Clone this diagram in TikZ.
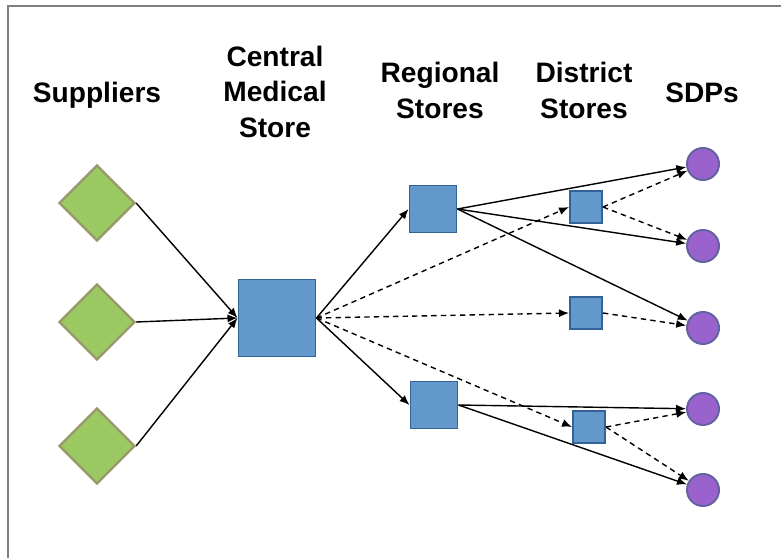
\documentclass[tikz,border=0pt]{standalone}
\usepackage{fontspec}
\setmainfont{Liberation Sans}
\usetikzlibrary{arrows.meta,shapes.geometric}
\definecolor{suppfill}{RGB}{155,202,98}
\definecolor{suppline}{RGB}{152,152,108}
\definecolor{storefill}{RGB}{98,152,202}
\definecolor{storeline}{RGB}{52,98,152}
\definecolor{sdpfill}{RGB}{153,98,204}
\definecolor{sdpline}{RGB}{98,98,160}
\tikzset{
  supplier/.style={diamond, draw=suppline, fill=suppfill, line width=1.6pt, inner sep=0pt, minimum width=1.9cm, minimum height=1.9cm},
  store/.style={rectangle, draw=storeline, fill=storefill, line width=1.4pt, inner sep=0pt},
  sdp/.style={circle, draw=sdpline, fill=sdpfill, line width=1.4pt, inner sep=0pt, minimum size=0.8cm},
  heading/.style={font=\fontsize{20}{25}\selectfont\bfseries, align=center, anchor=base},
  flow/.style={-{Latex[length=0.25cm,width=0.2cm]}, line width=1pt},
  flowdash/.style={flow, dash pattern=on 3.8pt off 3pt}
}
\begin{document}
\begin{tikzpicture}[x=0.025cm,y=-0.025cm]
\useasboundingbox (0,0) rectangle (781,558);
\draw[gray, line width=1.8pt] (8,558) -- (8,6) -- (781,6);
% headings (base = last line)
\node[heading] (hsup) at (97,102) {Suppliers};
\node[heading] (hcms) at (275,137) {Central\\Medical\\Store};
\node[heading] (hreg) at (440,118) {Regional\\Stores};
\node[heading] (hdis) at (584,118) {District\\Stores};
\node[heading] (hsdp) at (702,102) {SDPs};
% suppliers
\node[supplier] (sup1) at (97,203) {};
\node[supplier] (sup2) at (97,322) {};
\node[supplier] (sup3) at (97,446) {};
% stores
\node[store, minimum size=1.925cm] (cms) at (277,318) {};
\node[store, minimum size=1.175cm] (reg1) at (433,209) {};
\node[store, minimum size=1.175cm] (reg2) at (434,405) {};
\node[store, minimum size=0.8cm] (dis1) at (586,207) {};
\node[store, minimum size=0.8cm] (dis2) at (586,313) {};
\node[store, minimum size=0.8cm] (dis3) at (589,427) {};
% service delivery points
\node[sdp] (sdp1) at (703,164) {};
\node[sdp] (sdp2) at (703,246) {};
\node[sdp] (sdp3) at (703,328) {};
\node[sdp] (sdp4) at (703,409) {};
\node[sdp] (sdp5) at (703,490) {};
% flows
\foreach \s in {sup1,sup2,sup3}
  \draw[flow] (\s.east) -- (cms.west);
\foreach \r in {reg1,reg2}
  \draw[flow] (cms.east) -- (\r.west);
\foreach \d in {dis1,dis2,dis3}
  \draw[flowdash] (cms.east) -- (\d.west);
\foreach \p in {sdp1,sdp2,sdp3}
  \draw[flow] (reg1.east) -- (\p);
\foreach \p in {sdp4,sdp5}
  \draw[flow] (reg2.east) -- (\p);
\foreach \p in {sdp1,sdp2}
  \draw[flowdash] (dis1.east) -- (\p);
\draw[flowdash] (dis2.east) -- (sdp3);
\foreach \p in {sdp4,sdp5}
  \draw[flowdash] (dis3.east) -- (\p);
\end{tikzpicture}
\end{document}
